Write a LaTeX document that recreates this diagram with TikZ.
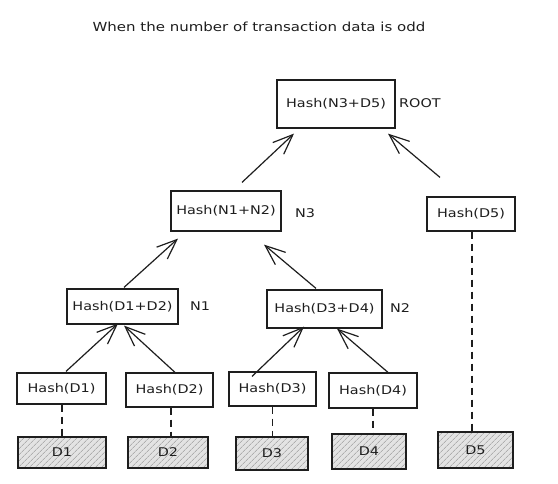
\documentclass[tikz,border=0pt]{standalone}
\usepackage{fontspec}
\setmainfont{DejaVu Sans}[FakeStretch=1.2]
\usetikzlibrary{arrows.meta,patterns.meta}
\definecolor{ink}{HTML}{1E1E1E}
\begin{document}
\begin{tikzpicture}[x=1pt,y=-1pt,
  hbox/.style={draw=ink, line width=1.2pt, fill=white, inner sep=0pt,
    font=\fontsize{12}{14}\selectfont, text=ink},
  dbox/.style={draw=ink, line width=1.2pt, inner sep=0pt,
    preaction={fill=gray!22},
    pattern={Lines[angle=45,distance=4pt,line width=0.6pt]}, pattern color=gray!85,
    font=\fontsize{12}{14}\selectfont, text=ink},
  lbl/.style={inner sep=0pt, anchor=west, font=\fontsize{12}{14}\selectfont, text=ink},
  link/.style={draw=ink, line width=1.2pt, -{Straight Barb[length=20pt,width=16pt]}},
  dashlink/.style={draw=ink, line width=1.2pt, dash pattern=on 7pt off 5pt}
]
\useasboundingbox (0,0) rectangle (558,484);

\node[font=\fontsize{12.5}{15}\selectfont, text=ink] (title) at (259,27) {When the number of transaction data is odd};

% hash boxes
\node[hbox, minimum width=118pt, minimum height=48pt] (root) at (336,104) {Hash(N3+D5)};
\node[hbox, minimum width=110pt, minimum height=40pt] (n3) at (226,211) {Hash(N1+N2)};
\node[hbox, minimum width=88pt, minimum height=34pt] (h5) at (471,214) {Hash(D5)};
\node[hbox, minimum width=111pt, minimum height=35pt] (n1) at (122.5,306.5) {Hash(D1+D2)};
\node[hbox, minimum width=115pt, minimum height=38pt] (n2) at (324.5,309) {Hash(D3+D4)};
\node[hbox, minimum width=89pt, minimum height=31pt] (h1) at (61.5,388.5) {Hash(D1)};
\node[hbox, minimum width=87pt, minimum height=34pt] (h2) at (169.5,390) {Hash(D2)};
\node[hbox, minimum width=87pt, minimum height=34pt] (h3) at (272.5,389) {Hash(D3)};
\node[hbox, minimum width=88pt, minimum height=35pt] (h4) at (373,390.5) {Hash(D4)};

% data boxes
\node[dbox, minimum width=88pt, minimum height=31pt] (d1) at (62,452.5) {D1};
\node[dbox, minimum width=80pt, minimum height=31pt] (d2) at (168,452.5) {D2};
\node[dbox, minimum width=72pt, minimum height=33pt] (d3) at (272,453.5) {D3};
\node[dbox, minimum width=74pt, minimum height=35pt] (d4) at (369,451.5) {D4};
\node[dbox, minimum width=75pt, minimum height=36pt] (d5) at (475.5,450) {D5};

% labels
\node[lbl] (rootlbl) at (399,103) {ROOT};
\node[lbl] (n3lbl) at (295,213) {N3};
\node[lbl] (n1lbl) at (190,306) {N1};
\node[lbl] (n2lbl) at (390,308) {N2};

% arrows
\draw[link] ([xshift=16pt,yshift=8pt]n3.north) -- ([xshift=-42pt,yshift=-5pt]root.south);
\draw[link] ([xshift=-31pt,yshift=19pt]h5.north) -- ([xshift=52pt,yshift=-5pt]root.south);
\draw[link] ([xshift=1.5pt,yshift=1pt]n1.north) -- ([xshift=-48pt,yshift=-7pt]n3.south);
\draw[link] ([xshift=-8.5pt,yshift=1pt]n2.north) -- ([xshift=38pt,yshift=-13pt]n3.south);
\draw[link] ([xshift=4.5pt,yshift=1pt]h1.north) -- ([xshift=-4.5pt,yshift=1pt]n1.south);
\draw[link] ([xshift=5.5pt]h2.north) -- ([xshift=1.5pt,yshift=-1pt]n1.south);
\draw[link] ([xshift=-20.5pt,yshift=-5pt]h3.north) -- ([xshift=-20.5pt,yshift=2pt]n2.south);
\draw[link] ([xshift=15pt]h4.north) -- ([xshift=12.5pt]n2.south);

% dashed links
\draw[dashlink] ([xshift=0.5pt]h1.south) -- ([xshift=0.5pt]h1.south |- d1.north);
\draw[dashlink] ([xshift=1.5pt]h2.south) -- ([xshift=1.5pt]h2.south |- d2.north);
\draw[dashlink] (h3.south) -- (h3.south |- d3.north);
\draw[dashlink] (h4.south) -- (h4.south |- d4.north);
\draw[dashlink] ([xshift=1pt]h5.south) -- ([xshift=1pt]h5.south |- d5.north);
\end{tikzpicture}
\end{document}
